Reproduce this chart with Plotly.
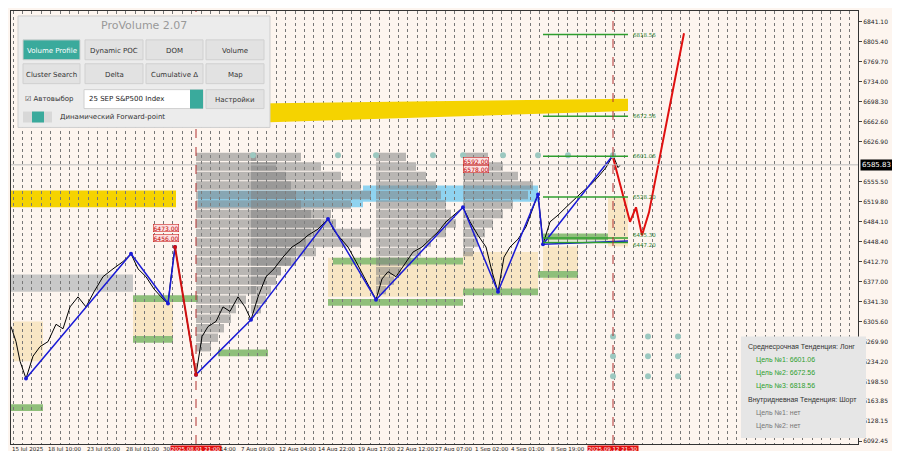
import plotly.graph_objects as go

# price path (bar position, price)
bar_x = [3, 8, 12, 18, 25, 32, 40, 48, 55, 62, 70, 78, 86, 95, 105, 115, 123, 130, 138, 146,
         153, 160, 163, 167, 172, 178, 184, 188, 194, 200, 208, 215, 222, 230, 237, 243, 250,
         258, 266, 275, 284, 292, 300, 310, 320, 327, 333, 340, 348, 356, 362, 368, 374, 380,
         388, 396, 405, 414, 422, 430, 438, 446, 455, 462, 470, 478, 484, 490, 496, 502, 510,
         518, 525, 530, 533, 535, 542, 550, 558, 566, 574, 582, 590, 598, 605, 610, 612]
close = [6297, 6270, 6235, 6204, 6244, 6261, 6270, 6301, 6293, 6332, 6350, 6332, 6359, 6386,
         6400, 6413, 6427, 6400, 6386, 6364, 6350, 6338, 6386, 6439, 6386, 6315, 6252, 6211,
         6279, 6297, 6306, 6332, 6324, 6350, 6332, 6309, 6350, 6386, 6400, 6421, 6439, 6448,
         6460, 6471, 6489, 6466, 6453, 6439, 6413, 6386, 6364, 6345, 6382, 6395, 6386, 6407,
         6430, 6439, 6453, 6466, 6484, 6496, 6510, 6484, 6460, 6439, 6395, 6359, 6421, 6439,
         6453, 6475, 6510, 6533, 6484, 6444, 6484, 6496, 6510, 6524, 6537, 6549, 6564, 6581,
         6603, 6581, 6585]

zz_blue_a_x = [18, 123, 160, 167]
zz_blue_a_p = [6204, 6427, 6338, 6439]
zz_red_x = [167, 188]
zz_red_p = [6439, 6211]
zz_blue_b_x = [188, 243, 320, 368, 455, 490, 530, 535, 605]
zz_blue_b_p = [6211, 6309, 6489, 6345, 6510, 6359, 6533, 6444, 6603]

fc_x = [605, 622, 628, 634, 641, 676]
fc_p = [6599, 6484, 6510, 6460, 6501, 6821]

targets = [6818.56, 6672.56, 6601.06]
side_levels = [6528.20, 6455.30, 6447.20]
current_price = 6585.83

# volume profiles: base x, price levels, widths
prof_levels = [6600, 6583, 6566, 6549, 6532, 6515, 6498, 6481, 6464, 6447, 6430, 6413,
               6396, 6379, 6362, 6345, 6328, 6311, 6294, 6277, 6260]
profiles = [
    (188, [60, 80, 90, 95, 100, 105, 115, 140, 175, 165, 120, 100, 85, 70, 60, 50, 40, 35, 28, 22, 15]),
    (243, [50, 70, 90, 110, 120, 100, 80, 70, 60, 55, 45, 40, 30, 25, 20, 15, 10, 0, 0, 0, 0]),
    (368, [30, 40, 50, 60, 65, 70, 75, 80, 70, 55, 45, 35, 25, 18, 10, 0, 0, 0, 0, 0, 0]),
    (455, [25, 40, 55, 70, 65, 50, 40, 30, 22, 15, 10, 0, 0, 0, 0, 0, 0, 0, 0, 0, 0]),
]

# zones: x0, x1, p_low, p_high
yellow_zones = [(0, 168, 6510, 6540)]
blue_zones = [(190, 355, 6510, 6540), (355, 530, 6520, 6549)]
grey_zones = [(0, 125, 6359, 6390)]
beige_zones = [(125, 165, 6270, 6350), (5, 35, 6235, 6306), (320, 455, 6350, 6420),
               (455, 530, 6360, 6430), (535, 570, 6380, 6440), (600, 620, 6440, 6528)]
green_bars = [(125, 190, 6341, 6353), (125, 165, 6268, 6280), (320, 455, 6334, 6346),
              (455, 530, 6353, 6365), (325, 455, 6408, 6420), (210, 260, 6244, 6256),
              (0, 35, 6146, 6158), (535, 600, 6451, 6463), (530, 570, 6384, 6396)]
dots_x = [245, 330, 368, 425, 455, 495, 530, 560, 605, 605, 640, 670, 605, 640, 670, 605, 640, 670]
dots_p = [6603, 6603, 6603, 6603, 6603, 6603, 6603, 6603, 6603,
          6279, 6279, 6279, 6244, 6244, 6244, 6208, 6208, 6208]

ytick_vals = [6841.10, 6805.40, 6769.70, 6734.00, 6698.30, 6662.60, 6626.90, 6555.50,
              6519.80, 6484.10, 6448.40, 6412.70, 6377.00, 6341.30, 6305.60, 6269.90,
              6234.20, 6198.50, 6163.85, 6128.15, 6092.45]
xlabels = ["15 Jul 2025", "18 Jul 10:00", "23 Jul 05:00", "28 Jul 01:00", "30",
           "2025.08.01 21:00", "14:00", "7 Aug 09:00", "12 Aug 04:00", "14 Aug 22:00",
           "19 Aug 17:00", "22 Aug 12:00", "27 Aug 07:00", "1 Sep 02:00", "4 Sep 01:00",
           "8 Sep 19:00", "2025.09.12 21:30"]
xlabel_pos = [20, 56, 95, 134, 158, 188, 220, 250, 290, 329, 369, 408, 446, 484, 520, 560, 605]
xlabel_red = ["2025.08.01 21:00", "2025.09.12 21:30"]

Y_TOP, Y_BOT = 6860.7, 6087.1


def py(ypx):
    # pixel row -> price, for placing the overlay panel
    return Y_TOP - (ypx - 3) * (Y_TOP - Y_BOT) / 435


def paper_x(xpx):
    return (xpx - 3) / 847


fig = go.Figure()
shapes = []
for x0, x1, lo, hi in grey_zones:
    shapes.append(dict(type="rect", x0=x0, x1=x1, y0=lo, y1=hi, fillcolor="#c8c8c8", line_width=0, layer="below"))
for x0, x1, lo, hi in beige_zones:
    shapes.append(dict(type="rect", x0=x0, x1=x1, y0=lo, y1=hi, fillcolor="#f8e6c4", line_width=0, layer="below"))
for x0, x1, lo, hi in yellow_zones:
    shapes.append(dict(type="rect", x0=x0, x1=x1, y0=lo, y1=hi, fillcolor="#f5d300", line_width=0, layer="below"))
for x0, x1, lo, hi in blue_zones:
    shapes.append(dict(type="rect", x0=x0, x1=x1, y0=lo, y1=hi, fillcolor="#8fd3f0", line_width=0, layer="below"))
for x0, x1, lo, hi in green_bars:
    shapes.append(dict(type="rect", x0=x0, x1=x1, y0=lo, y1=hi, fillcolor="#8fbf7a", line_width=0, layer="below"))
# sloped yellow band
fig.add_trace(go.Scatter(x=[190, 620, 620, 190, 190], y=[6694, 6704, 6682, 6658, 6694], fill="toself",
                         fillcolor="#f5d300", line_width=0, mode="lines", hoverinfo="skip"))

for base, widths in profiles:
    fig.add_trace(go.Bar(y=prof_levels, x=widths, base=base, orientation="h", width=15,
                         marker_color="rgba(130,130,130,0.55)", marker_line_width=0))

fig.add_trace(go.Scatter(x=bar_x, y=close, mode="lines", line=dict(color="black", width=1)))
fig.add_trace(go.Scatter(x=zz_blue_a_x, y=zz_blue_a_p, mode="lines+markers", line=dict(color="#1a1ad6", width=1.5), marker=dict(size=4)))
fig.add_trace(go.Scatter(x=zz_blue_b_x, y=zz_blue_b_p, mode="lines+markers", line=dict(color="#1a1ad6", width=1.5), marker=dict(size=4)))
fig.add_trace(go.Scatter(x=[535, 620], y=[6444, 6450], mode="lines", line=dict(color="#1a1ad6", width=1.5)))
fig.add_trace(go.Scatter(x=zz_red_x, y=zz_red_p, mode="lines+markers", line=dict(color="#d01010", width=2), marker=dict(size=4)))
fig.add_trace(go.Scatter(x=fc_x, y=fc_p, mode="lines", line=dict(color="#e01010", width=2)))
fig.add_trace(go.Scatter(x=dots_x, y=dots_p, mode="markers", marker=dict(color="#9cc8c0", size=6)))

for t in targets + side_levels:
    shapes.append(dict(type="line", x0=535, x1=620, y0=t, y1=t, line=dict(color="#2e9e2e", width=1.5)))
shapes.append(dict(type="line", x0=3, x1=850, y0=current_price, y1=current_price, line=dict(color="#bbbbbb", width=1)))
for vx in [188, 605]:
    shapes.append(dict(type="line", x0=vx, x1=vx, yref="paper", y0=0, y1=1, line=dict(color="#b03030", width=1, dash="dash")))

ann = []
for i, t in enumerate(targets + side_levels):
    ann.append(dict(x=623, y=t, text="%.2f" % t, showarrow=False, xanchor="left",
                    yshift=3 if i == 4 else (-3 if i == 5 else 0), font=dict(size=5.5, color="#2e7d2e")))
for lx, lp in [(145, 6473.00), (145, 6456.00), (455, 6592.00), (455, 6578.00)]:
    ann.append(dict(x=lx, y=lp, text="%.2f" % lp, showarrow=False, xanchor="left", font=dict(size=6, color="#c00000"),
                    bgcolor="#fde0e0", bordercolor="#c00000", borderwidth=0.5, borderpad=0))
ann.append(dict(x=1, xref="paper", y=current_price, text="%.2f" % current_price, showarrow=False, xanchor="left",
                font=dict(size=7, color="white"), bgcolor="black", borderpad=1, xshift=2))
for lab, lx in zip(xlabels, xlabel_pos):
    red = lab in xlabel_red
    ann.append(dict(x=lx, y=0, yref="paper", yanchor="top", yshift=-1, text=lab, showarrow=False,
                    font=dict(size=5.5, color="white" if red else "#222"), bgcolor="#e01010" if red else None,
                    borderpad=0))

# ProVolume panel
shapes.append(dict(type="rect", x0=10, x1=262, y0=py(8), y1=py(120), fillcolor="#ececec", line=dict(color="#cfcfcf", width=1)))
ann.append(dict(x=136, y=py(18), text="ProVolume 2.07", showarrow=False, font=dict(size=11, color="#999")))
buttons = [("Volume Profile", 15, 72, 32, 52), ("Dynamic POC", 77, 135, 32, 52), ("DOM", 138, 195, 32, 52),
           ("Volume", 198, 256, 32, 52), ("Cluster Search", 15, 72, 56, 76), ("Delta", 77, 135, 56, 76),
           ("Cumulative Δ", 138, 195, 56, 76), ("Map", 198, 256, 56, 76), ("Настройки", 198, 256, 82, 101)]
for name, x0, x1, y0, y1 in buttons:
    active = name == "Volume Profile"
    shapes.append(dict(type="rect", x0=x0, x1=x1, y0=py(y0), y1=py(y1), fillcolor="#3aaa9c" if active else "#e2e2e2",
                       line=dict(color="#d0d0d0", width=1)))
    ann.append(dict(x=(x0 + x1) / 2, y=py((y0 + y1) / 2 + 1), text=name, showarrow=False,
                    font=dict(size=7, color="white" if active else "#333")))
shapes.append(dict(type="rect", x0=76, x1=195, y0=py(82), y1=py(101), fillcolor="white", line=dict(color="#d0d0d0", width=1)))
shapes.append(dict(type="rect", x0=182, x1=195, y0=py(82), y1=py(101), fillcolor="#3aaa9c", line_width=0))
ann.append(dict(x=79, y=py(91), text="25 SEP S&P500 Index", showarrow=False, xanchor="left", font=dict(size=7, color="#222")))
ann.append(dict(x=15, y=py(91), text="☑ Автовыбор", showarrow=False, xanchor="left", font=dict(size=7, color="#333")))
shapes.append(dict(type="rect", x0=15, x1=44, y0=py(104), y1=py(115), fillcolor="#d8d8d8", line_width=0))
shapes.append(dict(type="rect", x0=24, x1=36, y0=py(104), y1=py(115), fillcolor="#3aaa9c", line_width=0))
ann.append(dict(x=50, y=py(109), text="Динамический Forward-point", showarrow=False, xanchor="left", font=dict(size=7, color="#333")))

# info box
shapes.append(dict(type="rect", xref="paper", x0=paper_x(733), x1=paper_x(858), y0=py(330), y1=py(432),
                   fillcolor="#e6e6e6", line_width=0))
info = [("Среднесрочная Тенденция: Лонг", "#333", 738, 341), ("Цель №1: 6601.06", "#2e9e2e", 746, 354),
        ("Цель №2: 6672.56", "#2e9e2e", 746, 367), ("Цель №3: 6818.56", "#2e9e2e", 746, 380),
        ("Внутридневная Тенденция: Шорт", "#333", 738, 394), ("Цель №1: нет", "#777", 746, 407),
        ("Цель №2: нет", "#777", 746, 420)]
for txt, col, xp, yp in info:
    ann.append(dict(x=paper_x(xp), xref="paper", y=py(yp), text=txt, showarrow=False, xanchor="left",
                    font=dict(size=7, color=col, family="Liberation Sans")))

fig.update_layout(
    width=900, height=451, margin=dict(l=3, r=50, t=3, b=15),
    paper_bgcolor="#fdf5ef", plot_bgcolor="#fdf5ef", showlegend=False, barmode="overlay",
    font=dict(family="DejaVu Sans"), shapes=shapes, annotations=ann,
    xaxis=dict(range=[3, 850], showticklabels=False, showgrid=True, gridcolor="#777", griddash="dot",
               gridwidth=0.5, tick0=5, dtick=9.4, zeroline=False, showline=True, linecolor="#333", mirror=True),
    yaxis=dict(range=[Y_BOT, Y_TOP], side="right", tickvals=ytick_vals, ticktext=["%.2f" % v for v in ytick_vals],
               tickfont=dict(size=6, color="#222"), ticks="outside", ticklen=3, showgrid=False, zeroline=False,
               showline=True, linecolor="#333", mirror=True),
)
fig.write_html("out.html")
